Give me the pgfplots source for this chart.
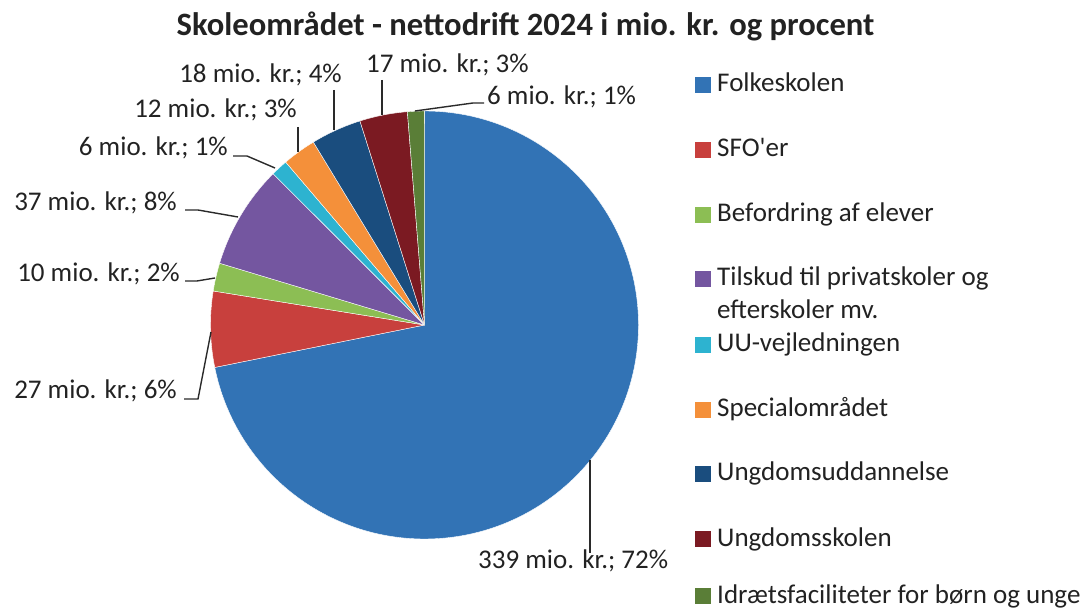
\documentclass[border=0pt]{standalone}
\usepackage{pgfplots}
\pgfplotsset{compat=1.18}
\usepackage{pgfplotstable}
\usepackage{fontspec}
\setmainfont{Carlito}
\newfontfamily\rawcarlito{Carlito}[Ligatures=TeXOff]

\definecolor{c0}{HTML}{3273B5}
\definecolor{c1}{HTML}{C8403D}
\definecolor{c2}{HTML}{8CBE54}
\definecolor{c3}{HTML}{7456A0}
\definecolor{c4}{HTML}{2DB3D0}
\definecolor{c5}{HTML}{F4903A}
\definecolor{c6}{HTML}{1A4D7E}
\definecolor{c7}{HTML}{7B1A22}
\definecolor{c8}{HTML}{5A7E37}
\definecolor{txt}{HTML}{222222}
\definecolor{lead}{HTML}{2A2A2A}

\pgfplotstableread[col sep=comma]{
name,value
Folkeskolen,339
SFO,27
Befordring,10
Tilskud,37
UU,6
Special,12
Ungdomsudd,18
Ungdomsskolen,17
Idraet,6
}\piedata

\begin{document}
\begin{tikzpicture}[x=1pt,y=1pt]
\path[use as bounding box] (0,0) rectangle (1087,608);
\begin{axis}[at={(424.5pt,283pt)}, anchor=center, scale only axis,
  width=428pt, height=428pt, xmin=-1, xmax=1, ymin=-1, ymax=1,
  hide axis, clip=false]
\def\total{0}
\pgfplotsforeachungrouped \i in {0,...,8}{%
  \pgfplotstablegetelem{\i}{value}\of\piedata
  \pgfmathsetmacro{\total}{\total+\pgfplotsretval}%
}
\def\cur{90}
\pgfplotsforeachungrouped \i in {0,...,8}{%
  \pgfplotstablegetelem{\i}{value}\of\piedata
  \pgfmathsetmacro{\nxt}{\cur-(\pgfplotsretval/\total)*360}%
  \edef\temp{\noexpand\fill[c\i, draw=white, line width=0.4pt, line join=round]
    (axis cs:0,0) -- (axis cs:{cos(\cur)},{sin(\cur)})
    arc[start angle=\cur, end angle=\nxt, radius=214pt] -- cycle;}%
  \temp
  \let\cur\nxt
}
\end{axis}

% title
\node[anchor=base, inner sep=0, text=txt, font=\fontsize{32.6}{38}\selectfont\bfseries] at (525.5,572) {Skoleområdet - nettodrift 2024 i mio. kr. og procent};

% data labels
\tikzset{lab/.style={inner sep=0, text=txt, font=\fontsize{27}{32}\selectfont}}
\node[lab, anchor=base west] at (478,40) {339 mio. kr.; 72\%};
\node[lab, anchor=base east] at (177,209) {27 mio. kr.; 6\%};
\node[lab, anchor=base east] at (180,326) {10 mio. kr.; 2\%};
\node[lab, anchor=base east] at (177,397) {37 mio. kr.; 8\%};
\node[lab, anchor=base east] at (228,452) {6 mio. kr.; 1\%};
\node[lab, anchor=base east] at (297,490) {12 mio. kr.; 3\%};
\node[lab, anchor=base east] at (342,525) {18 mio. kr.; 4\%};
\node[lab, anchor=base west] at (366,535) {17 mio. kr.; 3\%};
\node[lab, anchor=base west] at (487,503) {6 mio. kr.; 1\%};

% leader lines
\begin{scope}[draw=lead, line width=1.4pt]
\draw (590,148) -- (590,55);
\draw (184,209) -- (198,209) -- (211,276);
\draw (185,327) -- (197,327) -- (215,330);
\draw (185,398) -- (198,398) -- (238,391);
\draw (233,452) -- (247,452) -- (275,440);
\draw (298,481) -- (298,456);
\draw (334,518) -- (334,478);
\draw (382,528) -- (382,493);
\draw (484,505) -- (473,505) -- (415,497);
\end{scope}

% legend
\tikzset{leg/.style={inner sep=0, anchor=base west, text=txt, font=\fontsize{27}{32}\selectfont}}
\newcommand{\legsq}[2]{\fill[#1] (695,{608-#2-1}) rectangle (711,{608-#2+15});}
\legsq{c0}{92}\node[leg] at (717,516) {Folkeskolen};
\legsq{c1}{157}\node[leg] at (717,451) {{\rawcarlito SFO'er}};
\legsq{c2}{222}\node[leg] at (717,386) {Befordring af elever};
\legsq{c3}{286}\node[leg] at (717,322) {Tilskud til privatskoler og};
\node[leg] at (717,289) {efterskoler mv.};
\legsq{c4}{352}\node[leg] at (717,256) {UU-vejledningen};
\legsq{c5}{417}\node[leg] at (717,191) {Specialområdet};
\legsq{c6}{481}\node[leg] at (717,127) {Ungdomsuddannelse};
\legsq{c7}{546}\node[leg] at (717,62) {Ungdomsskolen};
\legsq{c8}{603}\node[leg] at (717,5) {Idrætsfaciliteter for børn og unge};
\end{tikzpicture}
\end{document}
